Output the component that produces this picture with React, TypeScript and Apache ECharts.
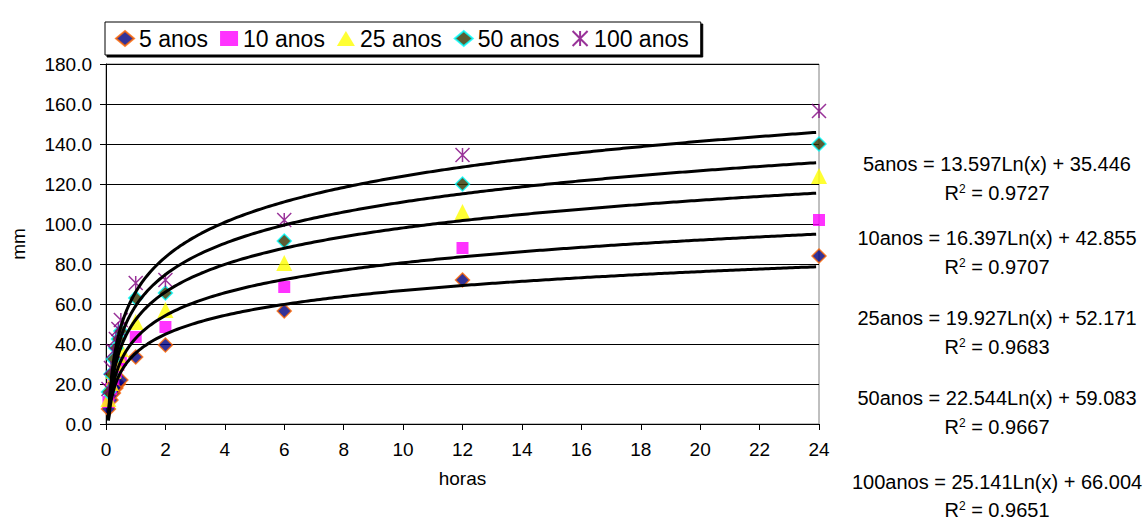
import React, { useEffect, useRef } from "react";
import * as echarts from "echarts";

// Durations (hours): 5, 10, 15, 20, 25, 30 min, 1, 2, 6, 12, 24 h
const HOURS = [0.083, 0.167, 0.25, 0.333, 0.417, 0.5, 1, 2, 6, 12, 24];

const SERIES_NAMES = ["5 anos", "10 anos", "25 anos", "50 anos", "100 anos"];

const S5 = [7.5, 12, 15.5, 18, 20, 22, 33.5, 39.5, 56.5, 72, 84];
const S10 = [11, 17.5, 22.5, 26, 29.5, 32, 43.5, 48.5, 68.5, 88, 102];
const S25 = [12.5, 20.5, 26.5, 30.5, 34.5, 37.5, 51, 57, 80.5, 106, 124];
const S50 = [16, 25, 32.5, 38, 42.5, 46.5, 63, 65.5, 91.5, 120, 140];
const S100 = [17.5, 28, 36.5, 42.5, 47.5, 52, 70.5, 72, 102, 134.5, 156.5];

// Logarithmic trendlines y = a Ln(x) + b
const EQ_NAMES = ["5anos", "10anos", "25anos", "50anos", "100anos"];
const COEF_A = [13.597, 16.397, 19.927, 22.544, 25.141];
const COEF_B = [35.446, 42.855, 52.171, 59.083, 66.004];
const R2 = ["0.9727", "0.9707", "0.9683", "0.9667", "0.9651"];

const FONT = "Liberation Sans, Arial, sans-serif";

const ASTERISK = "path://M0,0L20,20M20,0L0,20M10,0L10,20";

const EQ_Y = [164, 238, 318, 398, 482];
const R2_Y = [193, 267, 347, 427, 510];

export default function App() {
  const ref = useRef<HTMLDivElement>(null);

  useEffect(() => {
    if (!ref.current) return;
    const chart = echarts.init(ref.current, undefined, { renderer: "svg" });

    const dataSets = [S5, S10, S25, S50, S100];
    const styles: any[] = [
      { symbol: "diamond", symbolSize: 14, itemStyle: { color: "#000080", borderColor: "#FF6600", borderWidth: 1.5 } },
      { symbol: "rect", symbolSize: 12, itemStyle: { color: "#FF00FF" } },
      { symbol: "triangle", symbolSize: 16, itemStyle: { color: "#FFFF00" } },
      { symbol: "diamond", symbolSize: 14, itemStyle: { color: "#333300", borderColor: "#00FFFF", borderWidth: 1.5 } },
      { symbol: ASTERISK, symbolSize: 14, itemStyle: { color: "transparent", borderColor: "#800080", borderWidth: 1.5 } },
    ];

    const scatterSeries = SERIES_NAMES.map((name, i) => ({
      name,
      type: "scatter",
      data: HOURS.map((h, j) => [h, dataSets[i][j]]),
      ...styles[i],
    }));

    const xs: number[] = [];
    for (let x = 1 / 12; x <= 24.0001; x += x < 1 ? 0.01 : 0.1) xs.push(x);
    const trendSeries = COEF_A.map((a, i) => ({
      name: "trend" + i,
      type: "line",
      showSymbol: false,
      silent: true,
      data: xs.map((x) => [x, a * Math.log(x) + COEF_B[i]]),
      lineStyle: { color: "#000", width: 3 },
    }));

    const graphics: any[] = [];
    EQ_NAMES.forEach((n, i) => {
      graphics.push({
        type: "text",
        x: 997,
        y: EQ_Y[i],
        style: {
          text: `${n} = ${COEF_A[i].toFixed(3)}Ln(x) + ${COEF_B[i].toFixed(3)}`,
          font: `20px ${FONT}`,
          fill: "#000",
          align: "center",
          verticalAlign: "middle",
        },
      });
      graphics.push({
        type: "text",
        x: 997,
        y: R2_Y[i],
        style: {
          text: `{n|R}{s|2}{n| = ${R2[i]}}`,
          fill: "#000",
          align: "center",
          verticalAlign: "middle",
          rich: {
            n: { fontSize: 20, fontFamily: FONT, fill: "#000", verticalAlign: "bottom" },
            s: { fontSize: 12, fontFamily: FONT, fill: "#000", verticalAlign: "top" },
          },
        },
      });
    });

    chart.setOption({
      animation: false,
      backgroundColor: "#fff",
      grid: { left: 106, top: 64, width: 713, height: 360, show: true, borderColor: "#808080", borderWidth: 1, backgroundColor: "transparent" },
      legend: {
        data: SERIES_NAMES,
        left: 105,
        top: 22,
        orient: "horizontal",
        itemWidth: 18,
        itemHeight: 15,
        itemGap: 12,
        padding: [5, 12, 5, 10],
        borderColor: "#000",
        borderWidth: 1,
        backgroundColor: "#fff",
        shadowColor: "#000",
        shadowOffsetX: 2,
        shadowOffsetY: 2,
        shadowBlur: 0,
        textStyle: { fontSize: 23, fontFamily: FONT, color: "#000", padding: [0, 0, 0, 0] },
      },
      xAxis: {
        type: "value",
        min: 0,
        max: 24,
        interval: 2,
        name: "horas",
        nameLocation: "middle",
        nameGap: 45,
        nameTextStyle: { fontSize: 19, fontFamily: FONT, color: "#000" },
        axisLine: { show: true, onZero: false, lineStyle: { color: "#000", width: 1 } },
        axisTick: { show: true, length: 6, lineStyle: { color: "#000" } },
        axisLabel: { fontSize: 19, fontFamily: FONT, color: "#000", margin: 16 },
        splitLine: { show: false },
      },
      yAxis: {
        type: "value",
        min: 0,
        max: 180,
        interval: 20,
        name: "mm",
        nameLocation: "middle",
        nameRotate: 90,
        nameGap: 78,
        nameTextStyle: { fontSize: 19, fontFamily: FONT, color: "#000" },
        axisLine: { show: true, lineStyle: { color: "#000", width: 1 } },
        axisTick: { show: true, length: 6, lineStyle: { color: "#000" } },
        axisLabel: { fontSize: 19, fontFamily: FONT, color: "#000", margin: 14, formatter: (v: number) => v.toFixed(1) },
        splitLine: { show: true, lineStyle: { color: "#000", width: 1 } },
      },
      series: [...scatterSeries, ...trendSeries],
      graphic: graphics,
    });

    return () => chart.dispose();
  }, []);

  return <div ref={ref} style={{ width: 1145, height: 530, position: "absolute", left: 0, top: 0 }} />;
}
